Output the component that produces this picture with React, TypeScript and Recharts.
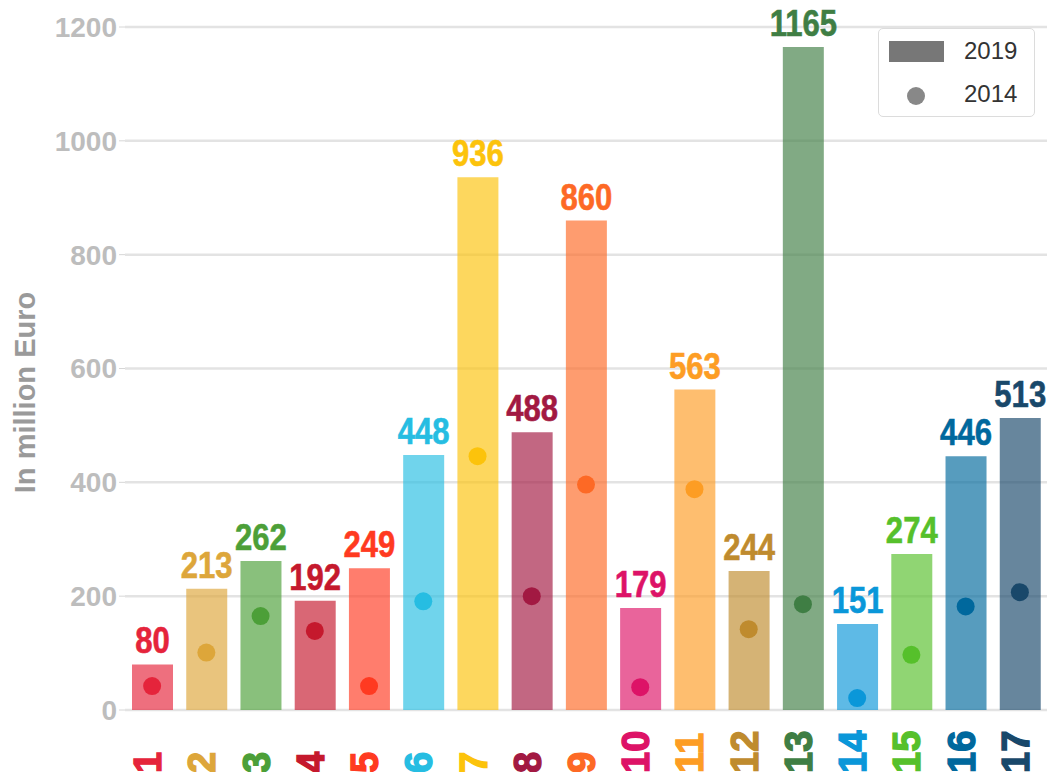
import React from "react";
import {
  ComposedChart,
  Bar,
  Scatter,
  Cell,
  XAxis,
  YAxis,
  CartesianGrid,
  Legend,
  Label,
} from "recharts";

const goals = ["1", "2", "3", "4", "5", "6", "7", "8", "9", "10", "11", "12", "13", "14", "15", "16", "17"];
const values2019 = [80, 213, 262, 192, 249, 448, 936, 488, 860, 179, 563, 244, 1165, 151, 274, 446, 513];
const values2014 = [42, 101, 165, 139, 42, 191, 446, 200, 396, 40, 388, 142, 186, 21, 97, 182, 207];
const goalColors = [
  "#E5243B", "#DDA63A", "#4C9F38", "#C5192D", "#FF3A21", "#26BDE2", "#FCC30B", "#A21942", "#FD6925",
  "#DD1367", "#FD9D24", "#BF8B2E", "#3F7E44", "#0A97D9", "#56C02B", "#00689D", "#19486A",
];
const yTicks = [0, 200, 400, 600, 800, 1000, 1200];

const data = goals.map((goal, i) => ({
  goal,
  v2019: values2019[i],
  v2014: values2014[i],
  color: goalColors[i],
}));

const FONT = "'Liberation Sans', Arial, sans-serif";

const renderValueLabel = (props: any) => {
  const x = Number(props.x) + Number(props.width) / 2;
  const y = Number(props.y) - 11;
  const c = goalColors[props.index];
  return (
    <text
      transform={`translate(${x}, ${y}) scale(0.84, 1)`}
      textAnchor="middle"
      fontSize={37}
      fontWeight="bold"
      fontFamily={FONT}
      fill={c}
      stroke={c}
      strokeWidth={0.6}
    >
      {props.value}
    </text>
  );
};

const renderXTick = (props: any) => {
  const { x, y, payload } = props;
  const tx = Number(x) + 9;
  const ty = Number(y) + 55;
  const c = goalColors[payload.index];
  return (
    <text
      x={tx}
      y={ty}
      transform={`rotate(-90, ${tx}, ${ty})`}
      textAnchor="start"
      fontSize={38}
      fontWeight="bold"
      fontFamily={FONT}
      fill={c}
      stroke={c}
      strokeWidth={1.4}
    >
      {payload.value}
    </text>
  );
};

const renderDot = (props: any) => (
  <circle cx={props.cx} cy={props.cy} r={9} fill={props.payload.color} />
);

const renderLegend = () => (
  <div
    style={{
      boxSizing: "border-box",
      width: 157,
      height: 89,
      background: "#fff",
      border: "1.5px solid #dcdcdc",
      borderRadius: 5,
      fontFamily: FONT,
      fontSize: 24,
      color: "#333",
      position: "relative",
    }}
  >
    <div style={{ position: "absolute", left: 10, top: 12, width: 55, height: 21, background: "#777" }} />
    <div style={{ position: "absolute", left: 85, top: 4, lineHeight: "36px" }}>2019</div>
    <div
      style={{
        position: "absolute",
        left: 28,
        top: 58,
        width: 18,
        height: 18,
        borderRadius: 9,
        background: "#888",
      }}
    />
    <div style={{ position: "absolute", left: 85, top: 47, lineHeight: "36px" }}>2014</div>
  </div>
);

export default function App() {
  return (
    <div style={{ position: "absolute", left: 0, top: 0, width: 1048, height: 772, background: "#fff" }}>
      <ComposedChart
        width={1048}
        height={772}
        data={data}
        margin={{ top: 27, right: 1, bottom: 0, left: 0 }}
      >
        <CartesianGrid vertical={false} stroke="#e3e3e3" strokeWidth={2.5} />
        <XAxis
          dataKey="goal"
          type="category"
          axisLine={false}
          tickLine={false}
          height={62}
          interval={0}
          tick={renderXTick}
        />
        <YAxis
          width={125}
          domain={[0, 1200]}
          ticks={yTicks}
          axisLine={false}
          tickLine={{ stroke: "#d6d6d6" }}
          tick={{ fill: "#bdbdbd", fontSize: 28, fontWeight: "bold", fontFamily: FONT }}
        >
          <Label
            content={(p: any) => {
              const vb = p.viewBox || { y: 27, height: 683 };
              const cx = 35;
              const cy = vb.y + vb.height / 2 + 24;
              return (
                <text
                  x={cx}
                  y={cy}
                  transform={`rotate(-90, ${cx}, ${cy})`}
                  textAnchor="middle"
                  fontSize={29}
                  fontWeight="bold"
                  fontFamily={FONT}
                  fill="#9a9a9a"
                >
                  In million Euro
                </text>
              );
            }}
          />
        </YAxis>
        <Legend
          layout="vertical"
          align="center"
          verticalAlign="middle"
          content={renderLegend}
          wrapperStyle={{ left: 878, top: 28, width: 157 }}
        />
        <Bar dataKey="v2019" name="2019" barSize={41} isAnimationActive={false} label={renderValueLabel}>
          {data.map((d) => (
            <Cell key={d.goal} fill={d.color} fillOpacity={0.66} />
          ))}
        </Bar>
        <Scatter dataKey="v2014" name="2014" isAnimationActive={false} shape={renderDot} />
      </ComposedChart>
    </div>
  );
}
